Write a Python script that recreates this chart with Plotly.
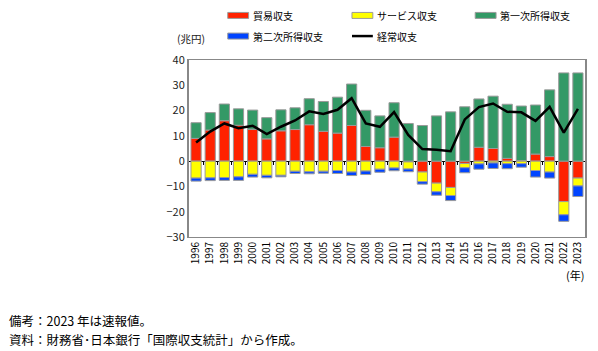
import plotly.graph_objects as go

years = [str(y) for y in range(1996, 2024)]
trade = [9.0, 12.3, 16.0, 14.2, 12.6, 8.8, 12.0, 12.5, 14.4, 11.8, 11.1, 14.1, 5.8, 5.3, 9.5,
         -0.3, -4.3, -8.7, -10.4, -0.9, 5.5, 5.0, 1.1, 0.2, 2.8, 1.8, -16.0, -6.7]
services = [-6.7, -6.6, -6.5, -6.2, -5.2, -5.6, -5.6, -4.0, -4.2, -4.0, -3.7, -4.3, -3.9, -3.2, -2.7,
            -2.8, -3.8, -3.4, -3.2, -1.7, -1.1, -0.7, -1.0, -1.0, -3.7, -4.3, -5.2, -3.1]
primary = [6.2, 6.9, 6.6, 6.5, 7.6, 8.4, 8.3, 8.6, 10.3, 11.8, 14.2, 16.4, 14.3, 12.6, 13.6,
           14.9, 14.1, 17.9, 19.5, 21.5, 19.1, 20.7, 21.4, 21.6, 19.4, 26.4, 34.9, 34.9]
secondary = [-1.2, -1.1, -1.1, -1.4, -1.1, -1.0, -0.6, -0.9, -0.8, -0.8, -1.2, -1.4, -1.4, -1.2, -1.1,
             -1.1, -1.0, -1.4, -2.0, -2.0, -2.1, -2.2, -2.0, -1.4, -2.6, -2.4, -2.6, -4.2]
current = [7.4, 11.7, 14.9, 13.0, 14.0, 10.7, 13.6, 16.1, 19.7, 18.7, 20.3, 24.9, 14.9, 13.6, 19.4,
           10.4, 4.8, 4.5, 3.9, 16.5, 21.4, 22.8, 19.5, 19.3, 15.9, 21.5, 11.3, 20.7]

names = ["貿易収支", "サービス収支", "第一次所得収支", "第二次所得収支", "経常収支"]
colors = ["#FF2200", "#FFFF00", "#339966", "#0044FF", "#000000"]

W, H = 598, 351
L, R, T, B = 189, 587.5, 60, 237.5
pw, ph = R - L, B - T
def px(x):
    return (x - L) / pw
def py(y):
    return (B - y) / ph

FONT = "Noto Sans CJK JP, Noto Sans, sans-serif"
fig = go.Figure()
series = [trade, services, primary, secondary]
for name, vals, c in zip(names[:4], series, colors[:4]):
    fig.add_trace(go.Bar(x=years, y=vals, name=name, marker=dict(color=c, line=dict(color="#9a9a9a", width=1))))
fig.add_trace(go.Scatter(x=years, y=current, name=names[4], mode="lines",
                         line=dict(color="black", width=2.5)))

# boundary ticks on zero line
fig.add_trace(go.Scatter(x=[None], y=[None], xaxis="x2", showlegend=False, hoverinfo="skip"))

fig.update_layout(
    width=W, height=H, margin=dict(l=L, r=W - R, t=T, b=H - B),
    paper_bgcolor="white", plot_bgcolor="white",
    barmode="relative", bargap=0.28, showlegend=False,
    font=dict(family=FONT, size=11, color="#000"),
    xaxis=dict(type="category", showline=True, linecolor="#888", linewidth=1, mirror=True,
               tickangle=-90, tickfont=dict(size=10, family=FONT), ticks="", showgrid=False),
    xaxis2=dict(overlaying="x", anchor="free", position=3/7, range=[-0.5, 27.5],
                tickvals=[i + 0.5 for i in range(27)], ticks="outside", ticklen=3, tickcolor="#000",
                showticklabels=False, showline=False, showgrid=False, zeroline=False),
    yaxis=dict(range=[-30, 40], dtick=10, showline=True, linecolor="#888", linewidth=2, mirror=True,
               ticks="", showgrid=False,
               zeroline=True, zerolinecolor="#000", zerolinewidth=1,
               tickfont=dict(size=11, family=FONT, color="#222")),
)

# manual legend (layout only)
leg_pos = [(228, 15.3), (353, 15.3), (477, 15.3), (228, 36), (353, 36)]
for name, c, (lx, ly) in zip(names, colors, leg_pos):
    if name == "経常収支":
        fig.add_shape(type="line", xref="paper", yref="paper", x0=px(lx), x1=px(lx + 21),
                      y0=py(ly), y1=py(ly), line=dict(color=c, width=2.5))
    else:
        fig.add_shape(type="rect", xref="paper", yref="paper", x0=px(lx), x1=px(lx + 21),
                      y0=py(ly - 3), y1=py(ly + 3), fillcolor=c, line=dict(color="#9a9a9a", width=1))
    fig.add_annotation(text=name, x=px(lx + 23), y=py(ly), xref="paper", yref="paper", showarrow=False,
                       font=dict(size=10, family=FONT), xanchor="left", yanchor="middle")

fig.add_annotation(text="(兆円)", x=px(175), y=py(38), xref="paper", yref="paper", showarrow=False,
                   font=dict(size=10.5, family=FONT, color="#222"), xanchor="left", yanchor="middle")
fig.add_annotation(text="(年)", x=px(577), y=py(276), xref="paper", yref="paper", showarrow=False,
                   font=dict(size=11, family=FONT), xanchor="center", yanchor="middle")
fig.add_annotation(text="備考：2023 年は速報値。", x=px(6), y=py(321), xref="paper", yref="paper",
                   showarrow=False, font=dict(size=12.5, family=FONT), xanchor="left", yanchor="middle")
fig.add_annotation(text="資料：財務省･日本銀行「国際収支統計」から作成。", x=px(6), y=py(340), xref="paper",
                   yref="paper", showarrow=False, font=dict(size=12.5, family=FONT), xanchor="left", yanchor="middle")

fig.write_html("out.html")
